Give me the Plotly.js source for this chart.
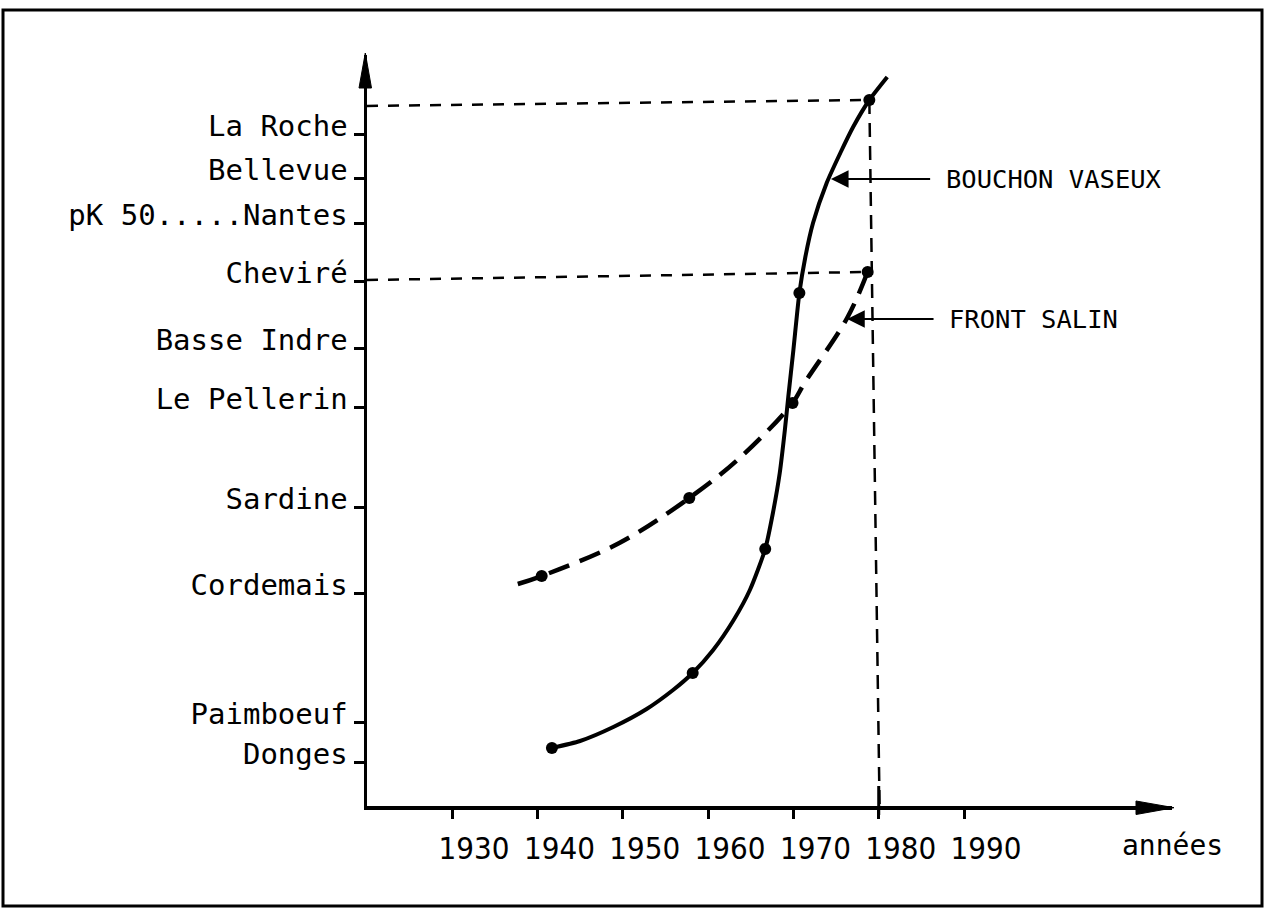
<!DOCTYPE html>
<html>
<head>
<meta charset="utf-8">
<script src="https://cdn.plot.ly/plotly-3.0.1.min.js"></script>
<style>
  html, body { margin: 0; padding: 0; background: #ffffff; }
  #chart { width: 1272px; height: 911px; }
</style>
</head>
<body>
<div id="chart"></div>
<script>
// ---------------- DATA ----------------
// Y axis: places along the estuary (position units)
const placeNames = ['La Roche', 'Bellevue', 'pK 50.....Nantes', 'Cheviré', 'Basse Indre',
                    'Le Pellerin', 'Sardine', 'Cordemais', 'Paimboeuf', 'Donges'];
const placePos   = [67.2, 62.8, 58.3, 52.5, 45.8, 39.9, 29.9, 21.3, 8.4, 4.4];

// X axis ticks
const yearTicks  = [1930, 1940, 1950, 1960, 1970, 1980, 1990];
const yearLabels = ['1930', '1940', '1950', '1960', '1970', '1980', '1990'];

// Bouchon vaseux (solid curve) : traced line and observed points
const bouchonLineYear = [1941.7, 1945.0, 1948.9, 1952.8, 1955.9, 1958.2, 1960.6, 1963.0, 1964.9, 1966.7,
                         1967.6, 1968.4, 1969.0, 1969.4, 1970.0, 1970.7, 1971.4, 1972.3, 1973.9, 1975.5,
                         1977.0, 1978.9, 1981.0];
const bouchonLinePos  = [5.8, 6.5, 7.9, 9.7, 11.6, 13.3, 15.6, 18.6, 21.6, 25.7,
                         29.3, 33.3, 37.6, 40.9, 45.6, 51.3, 54.9, 58.3, 62.3, 65.3,
                         67.9, 70.6, 72.9];
const bouchonPtYear   = [1941.7, 1958.2, 1966.7, 1970.7, 1978.9];
const bouchonPtPos    = [5.8, 13.3, 25.7, 51.3, 70.6];

// Front salin (dashed curve) : traced line and observed points
const frontLineYear = [1937.7, 1940.5, 1949.6, 1957.8, 1963.7, 1969.9, 1971.3, 1976.3, 1978.7];
const frontLinePos  = [22.2, 23.0, 26.3, 30.8, 34.8, 40.3, 42.3, 48.8, 53.4];
const frontPtYear   = [1940.5, 1957.8, 1969.9, 1978.7];
const frontPtPos    = [23.0, 30.8, 40.3, 53.4];

// Guide lines (dashed)
const guideTopYear    = [1920.03, 1978.9];
const guideTopPos     = [70.0, 70.6];
const guideChevYear   = [1920.03, 1978.7];
const guideChevPos    = [52.6, 53.4];
const guideVertYear   = [1978.9, 1980.1];
const guideVertPos    = [70.6, 0];

// Labels
const labelBouchon = 'BOUCHON VASEUX';
const labelFront   = 'FRONT SALIN';
const labelXAxis   = 'années';

// ---------------- LAYOUT HELPERS ----------------
const W = 1272, H = 911;
const M = { l: 367, r: 100, t: 55, b: 105 };
const PW = W - M.l - M.r, PH = H - M.t - M.b;
const px = v => (v - M.l) / PW;           // pixel x -> paper x
const py = v => (H - M.b - v) / PH;       // pixel y -> paper y
const FONT = '"DejaVu Sans Mono", "Liberation Mono", monospace';
const NARROW = '"Liberation Sans Narrow", "DejaVu Sans Condensed", sans-serif';
const K = '#000000';

const traces = [
  { x: guideTopYear, y: guideTopPos, mode: 'lines', line: { color: K, width: 2.5, dash: '11px,10px' }, hoverinfo: 'skip' },
  { x: guideChevYear, y: guideChevPos, mode: 'lines', line: { color: K, width: 2.5, dash: '11px,10px' }, hoverinfo: 'skip' },
  { x: guideVertYear, y: guideVertPos, mode: 'lines', line: { color: K, width: 2.5, dash: '14px,9px' }, hoverinfo: 'skip' },
  { x: bouchonLineYear, y: bouchonLinePos, mode: 'lines', name: labelBouchon,
    line: { color: K, width: 4, shape: 'spline', smoothing: 0.6 } },
  { x: bouchonPtYear, y: bouchonPtPos, mode: 'markers', name: labelBouchon,
    marker: { color: K, size: 12 } },
  { x: frontLineYear, y: frontLinePos, mode: 'lines', name: labelFront,
    line: { color: K, width: 4.5, dash: '22px,11px', shape: 'spline', smoothing: 1 } },
  { x: frontPtYear, y: frontPtPos, mode: 'markers', name: labelFront,
    marker: { color: K, size: 12 } }
];

const layout = {
  width: W, height: H,
  margin: M,
  paper_bgcolor: '#ffffff',
  plot_bgcolor: '#ffffff',
  showlegend: false,
  font: { family: FONT, color: K },
  xaxis: {
    range: [1920.03, 2014.37],
    tickvals: yearTicks, ticktext: yearLabels,
    showline: true, linecolor: K, linewidth: 3.5,
    ticks: 'outside', ticklen: 9, tickwidth: 3, tickcolor: K,
    showgrid: false, zeroline: false,
    tickfont: { family: NARROW, size: 31, color: K },
    ticklabelshift: 22, ticklabelstandoff: 3,
    fixedrange: true
  },
  yaxis: {
    range: [0, 75.1],
    tickvals: placePos, ticktext: placeNames,
    showline: true, linecolor: K, linewidth: 3.5,
    ticks: 'outside', ticklen: 10, tickwidth: 3, tickcolor: K,
    showgrid: false, zeroline: false,
    tickfont: { family: FONT, size: 29, color: K },
    ticklabelshift: -8, ticklabelstandoff: 0,
    fixedrange: true
  },
  shapes: [
    // frame
    { type: 'rect', xref: 'paper', yref: 'paper', x0: px(3), x1: px(1262), y0: py(906), y1: py(10),
      line: { color: K, width: 3 } },
    // y axis arrowhead
    { type: 'path', xref: 'paper', yref: 'paper',
      path: `M ${px(365.3)} ${py(53)} L ${px(359)} ${py(88)} L ${px(371.5)} ${py(88)} Z`,
      fillcolor: K, line: { color: K, width: 1 } },
    // x axis arrowhead
    { type: 'path', xref: 'paper', yref: 'paper',
      path: `M ${px(1174)} ${py(807.7)} L ${px(1136)} ${py(801)} L ${px(1136)} ${py(814.5)} Z`,
      fillcolor: K, line: { color: K, width: 1 } },
    // tall tick at 1980
    { type: 'line', xref: 'x', yref: 'paper', x0: 1980, x1: 1980, y0: py(786), y1: py(815),
      line: { color: K, width: 3 } }
  ],
  annotations: [
    { xref: 'paper', yref: 'paper', x: px(1172), y: py(845), text: labelXAxis, showarrow: false,
      xanchor: 'center', yanchor: 'middle', font: { family: FONT, size: 28, color: K } },
    { xref: 'x', yref: 'y', x: 1987.7, y: 62.7, text: labelBouchon, showarrow: false,
      xanchor: 'left', yanchor: 'middle', font: { family: FONT, size: 25.5, color: K } },
    { xref: 'x', yref: 'y', x: 1988.0, y: 48.7, text: labelFront, showarrow: false,
      xanchor: 'left', yanchor: 'middle', font: { family: FONT, size: 25.5, color: K } },
    { xref: 'x', yref: 'y', x: 1974.4, y: 62.7, axref: 'x', ayref: 'y', ax: 1986.2, ay: 62.7,
      text: '', showarrow: true, arrowhead: 2, arrowsize: 1.6, arrowwidth: 2.2, arrowcolor: K, standoff: 0 },
    { xref: 'x', yref: 'y', x: 1976.3, y: 48.7, axref: 'x', ayref: 'y', ax: 1986.6, ay: 48.7,
      text: '', showarrow: true, arrowhead: 2, arrowsize: 1.6, arrowwidth: 2.2, arrowcolor: K, standoff: 0 }
  ]
};

Plotly.newPlot('chart', traces, layout, { displayModeBar: false, staticPlot: true });
</script>
</body>
</html>
